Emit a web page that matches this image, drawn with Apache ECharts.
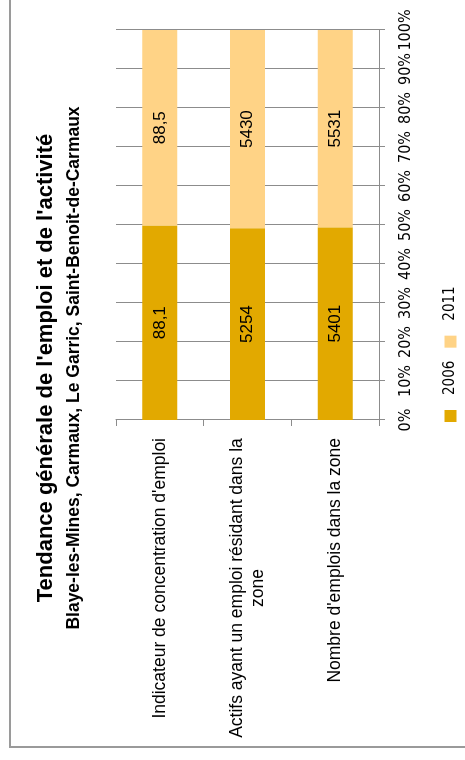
<!DOCTYPE html>
<html>
<head>
<meta charset="utf-8">
<script src="https://cdn.jsdelivr.net/npm/echarts@6/dist/echarts.min.js"></script>
<style>
html, body { margin: 0; padding: 0; width: 465px; height: 760px; overflow: hidden; background: #fff; }
#main { position: absolute; left: 0; top: 0; width: 760px; height: 465px; transform-origin: 0 0; transform: translate(0, 760px) rotate(-90deg); }
</style>
</head>
<body>
<div id="main"></div>
<script>
const titleText = "Tendance générale de l'emploi et de l'activité";
const subtitleText = "Blaye-les-Mines, Carmaux, Le Garric, Saint-Benoit-de-Carmaux";
const categories = ["Indicateur de concentration d'emploi", "Actifs ayant un emploi résidant dans la\nzone", "Nombre d'emplois dans la zone"];
const seriesNames = ["2006", "2011"];
const values2006 = [88.1, 5254, 5401];
const values2011 = [88.5, 5430, 5531];

const NARROW = "'Liberation Sans Narrow', 'Arial Narrow', 'DejaVu Sans Condensed', 'Liberation Sans', sans-serif";
const SANS = "'Liberation Sans', Arial, sans-serif";

function shares(a, b) {
  return a.map((v, i) => ({ value: v / (v + b[i]) * 100, raw: v }));
}
const fmt = p => String(p.data.raw).replace('.', ',');

const chart = echarts.init(document.getElementById('main'), null, { renderer: 'canvas' });
chart.setOption({
  animation: false,
  backgroundColor: '#fff',
  graphic: [
    { type: 'rect', shape: { x: 13, y: 10, width: 800, height: 500 }, style: { fill: 'none', stroke: '#9a9a9a', lineWidth: 2 }, z: 0 },
    { type: 'text', x: 392, y: 46, style: { text: titleText, font: "bold 22px 'Liberation Sans', Arial, sans-serif", fill: '#000', align: 'center', verticalAlign: 'middle' } },
    { type: 'text', x: 392, y: 74, style: { text: subtitleText, font: "bold 17.5px 'Liberation Sans', Arial, sans-serif", fill: '#000', align: 'center', verticalAlign: 'middle' } }
  ],
  legend: {
    data: seriesNames,
    left: 338, top: 443, padding: 0,
    itemWidth: 12, itemHeight: 12, itemGap: 13,
    icon: 'rect',
    formatter: name => '{p|}' + name,
    textStyle: { fontFamily: NARROW, fontSize: 15, color: '#000', rich: { p: { width: 10 } } }
  },
  grid: { left: 340, right: 30, top: 116, bottom: 86, containLabel: false },
  xAxis: {
    type: 'value', position: 'bottom', min: 0, max: 100, interval: 10,
    axisLine: { show: true, lineStyle: { color: '#8c8c8c', width: 1 } },
    axisTick: { show: true, length: 6, lineStyle: { color: '#8c8c8c' } },
    splitLine: { show: true, lineStyle: { color: '#8c8c8c', width: 1 } },
    axisLabel: { formatter: '{value}%', margin: 19, fontFamily: NARROW, fontSize: 16, color: '#000' }
  },
  yAxis: {
    type: 'category', inverse: true, data: categories,
    axisLine: { show: true, lineStyle: { color: '#8c8c8c', width: 1 } },
    axisTick: { show: true, length: 6, alignWithLabel: false, lineStyle: { color: '#8c8c8c' } },
    axisLabel: {
      margin: 18, fontFamily: SANS, fontSize: 17.5, color: '#000', lineHeight: 21,
      formatter: v => v.indexOf('\n') >= 0 ? v.split('\n').map(s => '{c|' + s + '}').join('\n') : v,
      rich: { c: { width: 300, align: 'center', fontFamily: SANS, fontSize: 17.5, lineHeight: 21, color: '#000' } }
    }
  },
  series: [
    { name: seriesNames[0], type: 'bar', stack: 'total', barWidth: '40%', data: shares(values2006, values2011),
      itemStyle: { color: '#E2A900' },
      label: { show: true, position: 'inside', formatter: fmt, fontFamily: SANS, fontSize: 17, color: '#000' } },
    { name: seriesNames[1], type: 'bar', stack: 'total', barWidth: '40%', data: shares(values2011, values2006),
      itemStyle: { color: '#FFD386' },
      label: { show: true, position: 'inside', formatter: fmt, fontFamily: SANS, fontSize: 17, color: '#000' } }
  ]
});
</script>
</body>
</html>
